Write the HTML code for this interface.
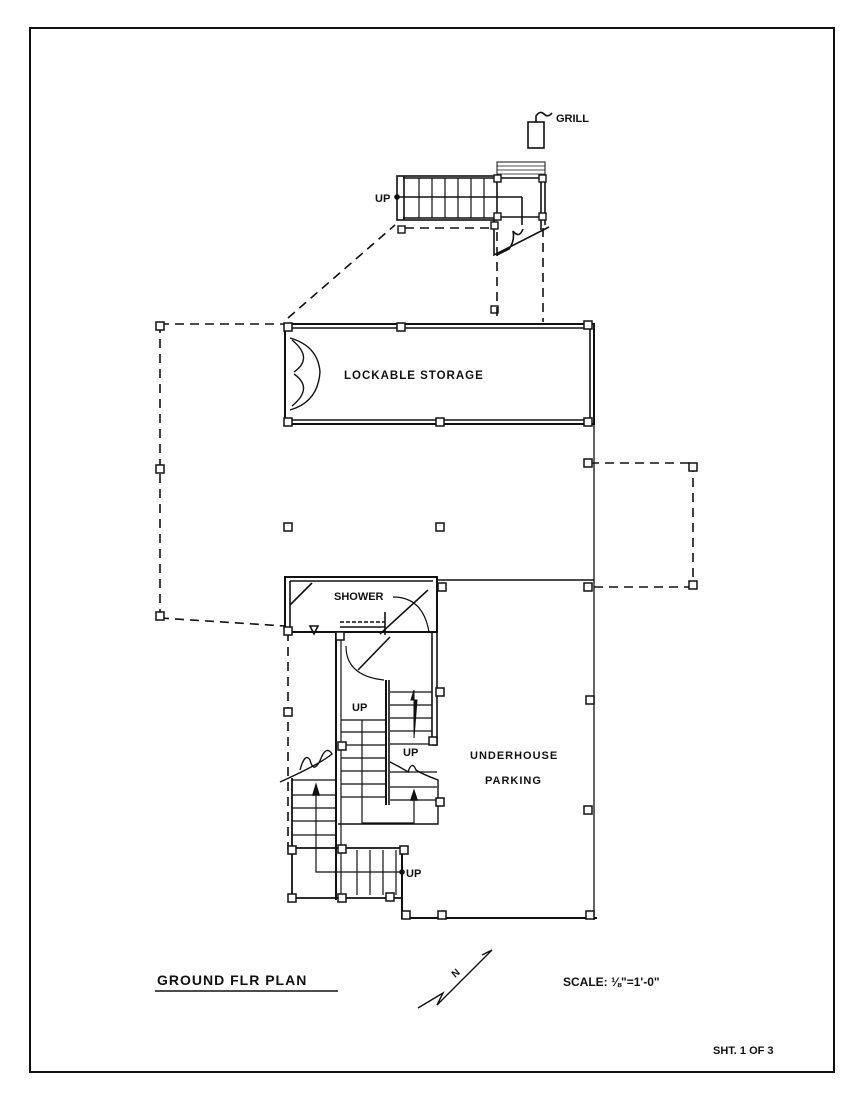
<!DOCTYPE html>
<html><head><style>
html,body{margin:0;padding:0;background:#fff}
svg{display:block}
text{font-family:"Liberation Sans",sans-serif;font-weight:bold;fill:#111}
</style></head><body>
<svg width="850" height="1100" viewBox="0 0 850 1100" xmlns="http://www.w3.org/2000/svg" stroke="#111" fill="none" stroke-width="1.6">
<rect x="30" y="28" width="804" height="1044" stroke-width="2"/>
<!-- grill -->
<rect x="528" y="122" width="16" height="26"/>
<path d="M536 122 v-6 q4 -6 8 -2 q4 4 8 -1"/>
<text x="556" y="122" font-size="11" stroke="none">GRILL</text>
<!-- top stair -->
<rect x="397" y="176" width="100" height="44"/>
<line x1="403" y1="178" x2="497" y2="178"/><line x1="403" y1="218" x2="497" y2="218"/>
<line x1="404" y1="176" x2="404" y2="220"/>
<g stroke-width="1.2"><line x1="419" y1="178" x2="419" y2="218"/><line x1="432" y1="178" x2="432" y2="218"/><line x1="445" y1="178" x2="445" y2="218"/><line x1="458" y1="178" x2="458" y2="218"/><line x1="471" y1="178" x2="471" y2="218"/><line x1="484" y1="178" x2="484" y2="218"/></g>
<line x1="397" y1="197" x2="522" y2="197"/><line x1="522" y1="197" x2="522" y2="225"/>
<circle cx="397" cy="197" r="2" fill="#111"/>
<text x="375" y="202" font-size="11" stroke="none">UP</text>
<rect x="497" y="162" width="48" height="16" stroke-width="1"/>
<g stroke-width="0.8"><line x1="497" y1="166" x2="545" y2="166"/><line x1="497" y1="170" x2="545" y2="170"/><line x1="497" y1="174" x2="545" y2="174"/></g>
<line x1="497" y1="178" x2="545" y2="178"/><line x1="497" y1="217" x2="545" y2="217"/>
<line x1="541" y1="178" x2="541" y2="230"/><line x1="545" y1="178" x2="545" y2="225"/>
<path d="M494 220 v35 l55 -28 M497 255 l12 -6 q6 -8 4 -18 q6 8 10 -2"/>
<g fill="#fff" stroke-width="1.4"><rect x="494" y="175" width="7" height="7"/><rect x="539" y="175" width="7" height="7"/><rect x="494" y="213" width="7" height="7"/><rect x="539" y="213" width="7" height="7"/><rect x="491" y="222" width="7" height="7"/><rect x="398" y="226" width="7" height="7"/><rect x="491" y="306" width="7" height="7"/></g>
<!-- dashed -->
<g stroke-dasharray="9,6"><line x1="288" y1="318" x2="395" y2="225"/><line x1="405" y1="228" x2="491" y2="228"/><line x1="497" y1="232" x2="497" y2="320"/><line x1="543" y1="228" x2="543" y2="322"/>
<line x1="160" y1="324" x2="285" y2="324"/><line x1="160" y1="324" x2="160" y2="618"/><line x1="160" y1="618" x2="285" y2="626"/>
<line x1="590" y1="463" x2="693" y2="463"/><line x1="693" y1="463" x2="693" y2="587"/><line x1="594" y1="587" x2="693" y2="587"/>
<line x1="288" y1="632" x2="288" y2="850"/></g>
<!-- storage -->
<rect x="285" y="324" width="309" height="100" stroke-width="2"/>
<line x1="290" y1="328" x2="590" y2="328"/><line x1="290" y1="420" x2="590" y2="420"/><line x1="590" y1="328" x2="590" y2="420"/>
<line x1="290" y1="328" x2="290" y2="420" stroke="#fff" stroke-width="3"/>
<path d="M290 338 q28 8 30 34 M290 410 q28 -8 30 -38 M292 340 q22 18 2 32 M292 406 q22 -18 2 -32" stroke-width="1.4"/>
<text x="344" y="379" font-size="11.5" stroke="none" letter-spacing="1">LOCKABLE STORAGE</text>
<line x1="594" y1="424" x2="594" y2="920" stroke-width="1.3"/>
<!-- parking -->
<polyline points="437,580 594,580" stroke-width="1.6"/>
<polyline points="437,580 437,745 432,745" stroke-width="1.6"/>
<polyline points="402,848 402,918 597,918" stroke-width="2"/>
<text x="470" y="759" font-size="11" stroke="none" letter-spacing="1">UNDERHOUSE</text>
<text x="485" y="784" font-size="11" stroke="none" letter-spacing="1">PARKING</text>
<!-- shower -->
<rect x="285" y="577" width="152" height="55" stroke-width="2"/>
<line x1="290" y1="581" x2="433" y2="581"/><line x1="290" y1="581" x2="290" y2="630"/>
<line x1="290" y1="605" x2="312" y2="583"/>
<text x="334" y="600" font-size="11" stroke="none">SHOWER</text>
<path d="M393 597 q30 0 36 35" stroke-width="1.2"/>
<line x1="380" y1="634" x2="428" y2="590"/>
<path d="M310 626 l8 0 l-4 8 z"/>
<line x1="340" y1="622" x2="385" y2="622" stroke-dasharray="4,2"/><line x1="340" y1="627" x2="385" y2="627"/>
<line x1="385" y1="612" x2="385" y2="635"/>
<!-- stair walls -->
<line x1="336" y1="632" x2="336" y2="900" stroke-width="2"/><line x1="341" y1="636" x2="341" y2="900" stroke-width="1.2"/>
<line x1="386" y1="680" x2="386" y2="805" stroke-width="2"/><line x1="389" y1="680" x2="389" y2="805"/>
<path d="M346 646 q0 30 38 34" stroke-width="1.2"/><line x1="358" y1="670" x2="390" y2="637"/>
<line x1="432" y1="632" x2="432" y2="745"/>
<g stroke-width="1.2">
<line x1="390" y1="692" x2="432" y2="692"/><line x1="390" y1="705" x2="432" y2="705"/><line x1="390" y1="718" x2="432" y2="718"/><line x1="390" y1="731" x2="432" y2="731"/><line x1="390" y1="744" x2="432" y2="744"/>
<line x1="341" y1="720" x2="386" y2="720"/><line x1="341" y1="732" x2="386" y2="732"/><line x1="341" y1="745" x2="386" y2="745"/><line x1="341" y1="758" x2="386" y2="758"/><line x1="341" y1="771" x2="386" y2="771"/><line x1="341" y1="784" x2="386" y2="784"/><line x1="341" y1="797" x2="386" y2="797"/>
<line x1="390" y1="772" x2="437" y2="772"/><line x1="390" y1="787" x2="437" y2="787"/><line x1="390" y1="800" x2="437" y2="800"/>
<line x1="292" y1="780" x2="336" y2="780"/><line x1="292" y1="795" x2="336" y2="795"/><line x1="292" y1="808" x2="336" y2="808"/><line x1="292" y1="821" x2="336" y2="821"/><line x1="292" y1="835" x2="336" y2="835"/>
<line x1="357" y1="850" x2="357" y2="895"/><line x1="370" y1="850" x2="370" y2="895"/><line x1="383" y1="850" x2="383" y2="895"/><line x1="396" y1="850" x2="396" y2="895"/>
</g>
<path d="M414 738 v-48 l-3 10 h6 z" fill="#111" stroke-width="1"/>
<text x="403" y="756" font-size="11" stroke="none">UP</text>
<text x="352" y="711" font-size="11" stroke="none">UP</text>
<polyline points="362,720 362,823 414,823 414,795" stroke-width="1.2"/><path d="M411 800 l3 -9 l3 9 z" fill="#111"/>
<path d="M390 762 q12 6 18 10 q4 -12 8 -2 q6 4 22 10 v44 h-100" stroke-width="1.4"/>
<path d="M280 782 q40 -18 52 -28 q-5 -8 -10 2 q-8 20 -12 4 q-5 -8 -10 10" stroke-width="1.4"/>
<line x1="292" y1="778" x2="292" y2="898" stroke-width="1.8"/>
<polyline points="316,785 316,872 402,872" stroke-width="1.2"/><path d="M313 795 l3 -10 l3 10 z" fill="#111"/>
<circle cx="402" cy="872" r="2" fill="#111"/>
<text x="406" y="877" font-size="11" stroke="none">UP</text>
<line x1="292" y1="848" x2="402" y2="848" stroke-width="1.8"/><line x1="292" y1="898" x2="402" y2="898" stroke-width="1.8"/>
<!-- posts -->
<g fill="#fff" stroke-width="1.5">
<rect x="156" y="322" width="8" height="8"/><rect x="156" y="465" width="8" height="8"/><rect x="156" y="612" width="8" height="8"/>
<rect x="284" y="323" width="8" height="8"/><rect x="284" y="418" width="8" height="8"/><rect x="397" y="323" width="8" height="8"/><rect x="436" y="418" width="8" height="8"/><rect x="584" y="321" width="8" height="8"/><rect x="584" y="418" width="8" height="8"/>
<rect x="284" y="523" width="8" height="8"/><rect x="436" y="523" width="8" height="8"/>
<rect x="584" y="459" width="8" height="8"/><rect x="584" y="583" width="8" height="8"/><rect x="689" y="463" width="8" height="8"/><rect x="689" y="581" width="8" height="8"/>
<rect x="284" y="627" width="8" height="8"/><rect x="336" y="632" width="8" height="8"/><rect x="284" y="708" width="8" height="8"/>
<rect x="438" y="583" width="8" height="8"/><rect x="436" y="688" width="8" height="8"/><rect x="429" y="737" width="8" height="8"/><rect x="436" y="798" width="8" height="8"/>
<rect x="586" y="696" width="8" height="8"/><rect x="584" y="806" width="8" height="8"/><rect x="586" y="911" width="8" height="8"/>
<rect x="338" y="742" width="8" height="8"/><rect x="288" y="846" width="8" height="8"/><rect x="338" y="845" width="8" height="8"/><rect x="400" y="846" width="8" height="8"/>
<rect x="288" y="894" width="8" height="8"/><rect x="338" y="894" width="8" height="8"/><rect x="386" y="893" width="8" height="8"/>
<rect x="402" y="911" width="8" height="8"/><rect x="438" y="911" width="8" height="8"/>
</g>
<!-- title -->
<text x="157" y="985" font-size="14" stroke="none" font-weight="normal" letter-spacing="1">GROUND FLR PLAN</text>
<line x1="155" y1="991" x2="338" y2="991" stroke-width="1.4"/>
<text x="563" y="986" font-size="12" stroke="none">SCALE: ⅛"=1'-0"</text>
<path d="M418 1008 l25 -15 l-6 12 l55 -55 l-10 5" stroke-width="1.4"/>
<text x="455" y="978" font-size="10" stroke="none" transform="rotate(-40 455 978)">N</text>
<text x="713" y="1054" font-size="11" stroke="none">SHT. 1 OF 3</text>
</svg>
</body></html>
